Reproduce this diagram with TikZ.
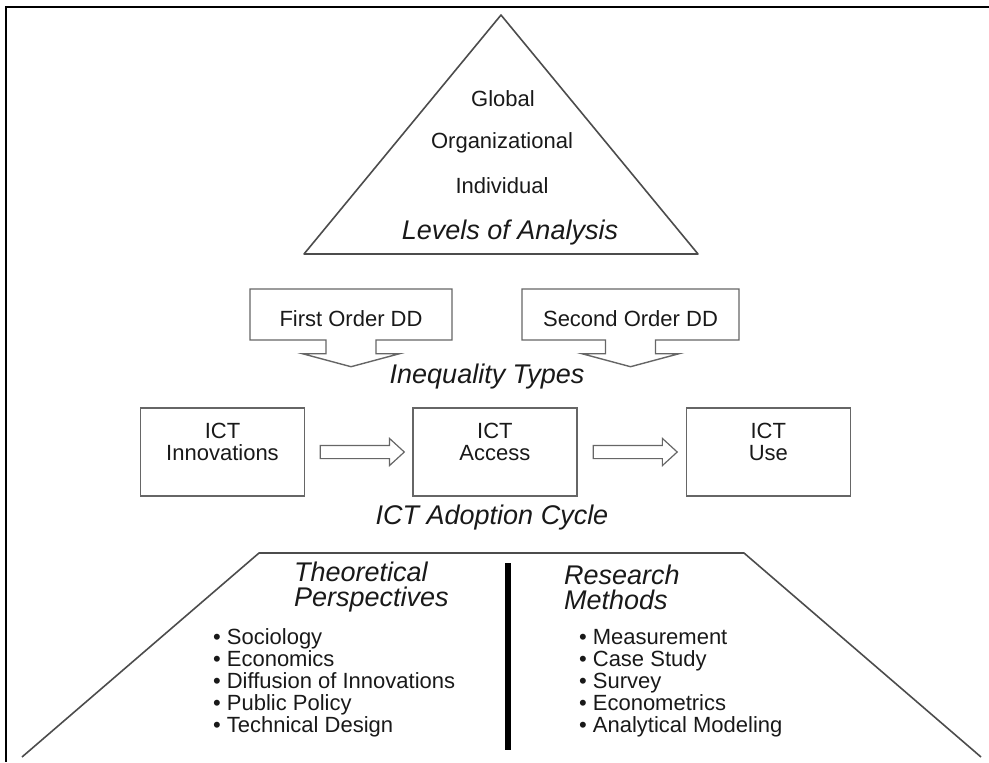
\documentclass[tikz,border=0pt]{standalone}
\usepackage{fontspec}
\setmainfont{Liberation Sans}
\usetikzlibrary{shapes.arrows, positioning, calc}
\definecolor{mainBlack}{gray}{0.1}
\definecolor{lineGray}{gray}{0.3}
\definecolor{boxGray}{gray}{0.4}

\tikzset{
    bodytext/.style={text=mainBlack, font=\fontsize{11pt}{11pt}\selectfont},
    headtext/.style={text=mainBlack, font=\fontsize{13.5pt}{12.5pt}\selectfont\itshape},
    boxtext/.style={bodytext, align=center, yshift=5pt},
    ddbox/.style={arrow box, draw=boxGray, line width=0.7pt, minimum height=25.5pt,
        text height=12pt, text depth=0pt,
        arrow box arrows={south:13pt}, arrow box shaft width=25pt,
        arrow box head extend=11.75pt, arrow box tip angle=150, bodytext},
    ictbox/.style={draw=boxGray, line width=0.7pt, minimum width=82pt, minimum height=44pt},
    blockarrow/.style={single arrow, draw=boxGray, line width=0.6pt, inner xsep=0pt,
        inner ysep=3pt, minimum height=42pt, single arrow head extend=3.5pt,
        single arrow tip angle=85}
}

\begin{document}
\begin{tikzpicture}[x=0.5pt, y=-0.5pt]
    \useasboundingbox (0,0) rectangle (989,762);
    % Frame
    \draw[black, line width=1.2pt] (989,7) -- (6,7) -- (6,762);

    % Levels of Analysis
    \draw[lineGray, line width=0.8pt, line join=round] (501,15) -- (698,254) -- (304,254) -- cycle;
    \node[bodytext] (global) at (503,99) {Global};
    \node[bodytext] (org) at (502,143) {Organizational};
    \node[bodytext] (indiv) at (502,186) {Individual};
    \node[headtext] (levels) at (510,233) {Levels of Analysis};

    % Inequality Types
    \node[ddbox, minimum width=101pt] (first) at (351,314.5) {First Order DD};
    \node[ddbox, minimum width=108.5pt] (second) at (630.5,314.5) {Second Order DD};
    \node[headtext] (ineq) at (487,377) {Inequality Types};

    % ICT Adoption Cycle
    \node[ictbox, label={[boxtext]center:{ICT\\Innovations}}] (innov) at (222.5,452) {};
    \node[ictbox, right=53.5pt of innov, label={[boxtext]center:{ICT\\Access}}] (access) {};
    \node[ictbox, right=54pt of access, label={[boxtext]center:{ICT\\Use}}] (use) {};
    \node[blockarrow] (arrA) at ($(innov.east)!0.5!(access.west)$) {};
    \node[blockarrow] (arrB) at ($(access.east)!0.5!(use.west)$) {};
    \node[headtext] (cycle) at (492,518) {ICT Adoption Cycle};

    % Perspectives and methods
    \draw[lineGray, line width=0.8pt, line join=round] (22,757) -- (259,553) -- (744,553) -- (981,757);
    \draw[black, line width=3pt] (508,563) -- (508,750);
    \node[headtext, anchor=west, align=left] (theory) at (287,587) {Theoretical\\Perspectives};
    \node[headtext, anchor=west, align=left] (methods) at (557,587) {Research\\Methods};
    \node[bodytext, anchor=west, align=left] (theorylist) at (206,683)
        {• Sociology\\• Economics\\• Diffusion of Innovations\\• Public Policy\\• Technical Design};
    \node[bodytext, anchor=west, align=left] (methodlist) at (572,683)
        {• Measurement\\• Case Study\\• Survey\\• Econometrics\\• Analytical Modeling};
\end{tikzpicture}
\end{document}
